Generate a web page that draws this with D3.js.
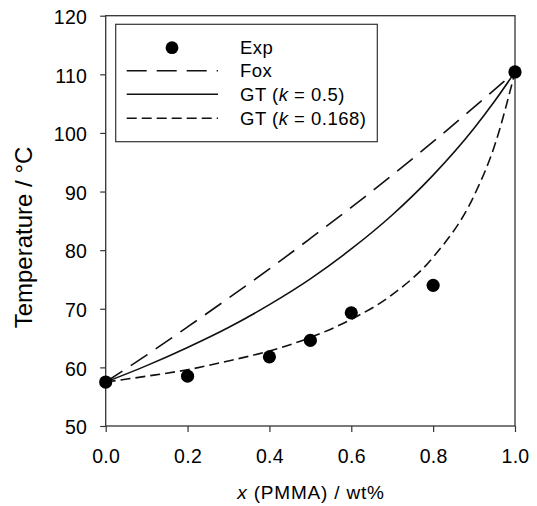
<!DOCTYPE html>
<html>
<head>
<meta charset="utf-8">
<script src="https://cdn.jsdelivr.net/npm/d3@7"></script>
<style>
    body { margin: 0; background: #fff; }
    svg text { font-family: "Liberation Sans", Arial, sans-serif; fill: #000; }
</style>
</head>
<body>
<div id="chart"></div>
<script>
// Experimental points
const expX = [0, 0.2, 0.4, 0.5, 0.6, 0.8, 1.0];
const expT = [57.5, 58.5, 61.8, 64.6, 69.3, 74.0, 110.4];

// Model curves
const curveX = [0, 0.1, 0.2, 0.3, 0.4, 0.5, 0.6, 0.7, 0.8, 0.9, 0.95, 1.0];
const foxT = [57.5, 62.1, 66.9, 71.8, 76.8, 82.0, 87.3, 92.8, 98.5, 104.4, 107.4, 110.4];
const gt05T = [57.5, 60.3, 63.4, 66.8, 70.7, 75.1, 80.2, 86.0, 92.8, 100.8, 105.4, 110.4];
const gt0168T = [57.5, 58.5, 59.6, 61.1, 62.8, 65.1, 68.2, 72.4, 78.8, 89.3, 97.8, 110.4];

const xTicks = [0, 0.2, 0.4, 0.6, 0.8, 1.0];
const yTicks = [50, 60, 70, 80, 90, 100, 110, 120];

const legendLabels = ["Exp", "Fox", "GT (k = 0.5)", "GT (k = 0.168)"];

const width = 537, height = 506;
const margin = { top: 15.7, right: 22, bottom: 80, left: 105.7 };

const svg = d3.select("#chart")
    .append("svg")
    .attr("width", width)
    .attr("height", height);

const x = d3.scaleLinear().domain([0, 1]).range([margin.left, width - margin.right]);
const y = d3.scaleLinear().domain([50, 120]).range([height - margin.bottom, margin.top]);

const tickFont = "19.5px";

// axes
const xAxis = svg.append("g")
    .attr("transform", `translate(0,${y(50)})`)
    .call(d3.axisBottom(x).tickValues(xTicks).tickFormat(d3.format(".1f")).tickSize(6).tickPadding(17.5).tickSizeOuter(0));

const yAxis = svg.append("g")
    .attr("transform", `translate(${x(0)},0)`)
    .call(d3.axisLeft(y).tickValues(yTicks).tickSize(5.5).tickPadding(13).tickSizeOuter(0));

[xAxis, yAxis].forEach(g => {
    g.select(".domain").remove();
    g.selectAll("line").attr("stroke", "#333").attr("stroke-width", 1.2);
    g.selectAll("text")
        .style("font-size", tickFont)
        .style("letter-spacing", "0.3px")
        .attr("fill", "#000");
});
yAxis.selectAll("text").attr("dy", "0.4em");

// frame
svg.append("rect")
    .attr("x", x(0))
    .attr("y", y(120))
    .attr("width", x(1) - x(0))
    .attr("height", y(50) - y(120))
    .attr("fill", "none")
    .attr("stroke", "#333")
    .attr("stroke-width", 1.3);

// curves
const line = d3.line()
    .x(d => x(d[0]))
    .y(d => y(d[1]))
    .curve(d3.curveMonotoneX);

const series = [
    { values: foxT, dash: "20,10" },
    { values: gt05T, dash: null },
    { values: gt0168T, dash: "10,5" }
];

series.forEach(s => {
    svg.append("path")
        .datum(curveX.map((v, i) => [v, s.values[i]]))
        .attr("d", line)
        .attr("fill", "none")
        .attr("stroke", "#111")
        .attr("stroke-width", 1.6)
        .attr("stroke-dasharray", s.dash);
});

// points
svg.selectAll(".dot")
    .data(expX.map((v, i) => [v, expT[i]]))
    .join("circle")
    .attr("class", "dot")
    .attr("cx", d => x(d[0]))
    .attr("cy", d => y(d[1]))
    .attr("r", 6.6)
    .attr("fill", "#000");

// axis titles
const xTitle = svg.append("text")
    .attr("x", 311)
    .attr("y", 499)
    .attr("text-anchor", "middle")
    .style("font-size", "19px")
    .style("letter-spacing", "0.8px");
xTitle.append("tspan").style("font-style", "italic").text("x");
xTitle.append("tspan").text(" (PMMA) / wt%");

svg.append("text")
    .attr("transform", "translate(32,237.5) rotate(-90)")
    .attr("text-anchor", "middle")
    .style("font-size", "24px")
    .text("Temperature / °C");

// legend
const legend = svg.append("g");
legend.append("rect")
    .attr("x", 115.7)
    .attr("y", 24.3)
    .attr("width", 261.6)
    .attr("height", 117.4)
    .attr("fill", "#fff")
    .attr("stroke", "#333")
    .attr("stroke-width", 1.2);

const rowY = [47.7, 70.7, 94.3, 118.3];
const legendDash = [null, "20,10", null, "10,5"];

legendLabels.forEach((lab, i) => {
    if (i === 0) {
        legend.append("circle")
            .attr("cx", 172)
            .attr("cy", rowY[i])
            .attr("r", 6.4)
            .attr("fill", "#000");
    } else {
        legend.append("line")
            .attr("x1", 126.7)
            .attr("x2", 218)
            .attr("y1", rowY[i])
            .attr("y2", rowY[i])
            .attr("stroke", "#111")
            .attr("stroke-width", 1.6)
            .attr("stroke-dasharray", legendDash[i]);
    }
    const t = legend.append("text")
        .attr("x", 240)
        .attr("y", rowY[i] + 6.5)
        .style("font-size", "18.5px")
        .style("letter-spacing", "0.5px");
    if (i >= 2) {
        const val = i === 2 ? "0.5" : "0.168";
        t.append("tspan").text("GT (");
        t.append("tspan").style("font-style", "italic").text("k");
        t.append("tspan").text(" = " + val + ")");
    } else {
        t.text(lab);
    }
});
</script>
</body>
</html>
